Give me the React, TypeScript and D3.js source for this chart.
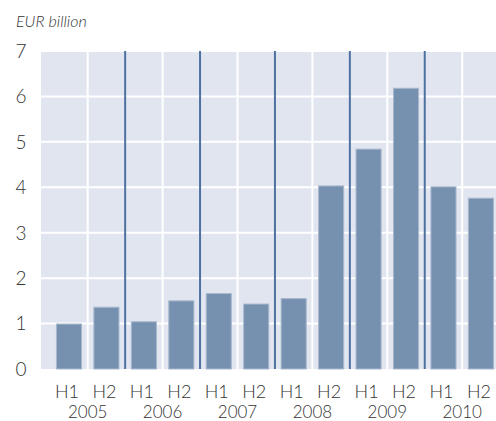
import React from 'react'
import * as d3 from 'd3'

const years = ['2005', '2006', '2007', '2008', '2009', '2010']
const halves = ['H1', 'H2']
const values = [0.99, 1.36, 1.04, 1.5, 1.66, 1.43, 1.55, 4.03, 4.84, 6.18, 4.01, 3.76]
const yTicks = [0, 1, 2, 3, 4, 5, 6, 7]
const unitLabel = 'EUR billion'

const W = 496
const H = 421
const plotLeft = 41
const plotTop = 51
const plotBottom = 369
const font = 'Lato, "Open Sans", sans-serif'
const textColor = '#333'

const App = () => {
  const cats = years.flatMap((yr) => halves.map((h) => `${yr}-${h}`))

  const x = d3.scaleBand()
    .domain(cats)
    .range([50.25, 50.25 + 12 * 37.45])
    .paddingInner(0.33)
    .paddingOuter(0.165)

  const y = d3.scaleLinear().domain([0, 7]).range([plotBottom, plotTop])

  const step = x.step()
  const start = x.range()[0]
  const bounds = d3.range(1, cats.length).map((i) => start + i * step)

  return (
    <svg width={W} height={H} style={{ position: 'absolute', left: 0, top: 0 }}>
      <rect x={plotLeft} y={plotTop} width={W - plotLeft} height={plotBottom - plotTop} fill="#e1e5f0" />
      {yTicks.slice(1).map((t) => (
        <line key={t} x1={plotLeft} x2={W} y1={y(t)} y2={y(t)} stroke="#fff" strokeWidth={2} />
      ))}
      {bounds.map((b, i) => (i % 2 === 0 ? (
        <line key={'w' + i} x1={b} x2={b} y1={plotTop} y2={plotBottom} stroke="#fff" strokeWidth={2} />
      ) : null))}
      {values.map((v, i) => (
        <rect key={i} x={x(cats[i])} y={y(v)} width={x.bandwidth()} height={y(0) - y(v)}
          fill="#7690b0" stroke="#a9b8cd" strokeWidth={1} />
      ))}
      {bounds.map((b, i) => (i % 2 === 1 ? (
        <line key={'d' + i} x1={b} x2={b} y1={plotTop} y2={plotBottom} stroke="#4e71a0" strokeWidth={2} />
      ) : null))}
      {yTicks.map((t) => (
        <text key={t} x={21} y={y(t)} dy="0.36em" textAnchor="middle" fontFamily={font}
          fontSize={19} fontWeight={300} fill={textColor}>{t}</text>
      ))}
      {cats.map((c, i) => (
        <text key={c} x={x(c)! + x.bandwidth() / 2 - 2} y={398} textAnchor="middle" fontFamily={font}
          fontSize={18} fontWeight={300} fill={textColor}>{halves[i % 2]}</text>
      ))}
      {years.map((yr, i) => (
        <text key={yr} x={start + (2 * i + 1) * step} y={418} textAnchor="middle" fontFamily={font}
          fontSize={17} fontWeight={300} fill={textColor}>{yr}</text>
      ))}
      <text x={16} y={27} fontFamily={font} fontSize={16} fontStyle="italic" fontWeight={300}
        fill={textColor}>{unitLabel}</text>
    </svg>
  )
}

export default App
